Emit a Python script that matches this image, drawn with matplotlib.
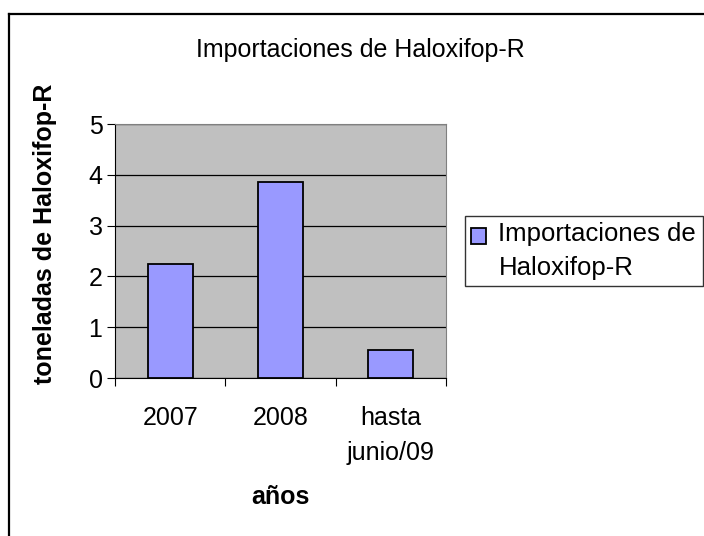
import matplotlib.pyplot as plt
from matplotlib.lines import Line2D

# Datos
categorias = ["2007", "2008", "hasta\njunio/09"]
toneladas = [2.24, 3.86, 0.55]
serie = "Importaciones de\nHaloxifop-R"

plt.rcParams['font.family'] = ['Liberation Sans', 'DejaVu Sans']

W, H = 704, 536
fig = plt.figure(figsize=(W / 100, H / 100), dpi=100)

# borde exterior (recortado: sólo arriba e izquierda visibles)
fig.lines.append(Line2D([9 / W, 1], [1 - 14 / H, 1 - 14 / H], transform=fig.transFigure,
                        color='black', linewidth=1.6))
fig.lines.append(Line2D([9 / W, 9 / W], [0, 1 - 14 / H], transform=fig.transFigure,
                        color='black', linewidth=1.6))

left, right, top, bottom = 115, 446, 124, 378
ax = fig.add_axes([left / W, 1 - bottom / H, (right - left) / W, (bottom - top) / H])
ax.set_facecolor('#C0C0C0')

x = range(len(categorias))
ax.bar(x, toneladas, width=0.41, color='#9999FF', edgecolor='black', linewidth=1.3,
       label=serie, zorder=3)

ax.set_xlim(-0.5, len(categorias) - 0.5)
ax.set_ylim(0, 5)
ax.set_yticks(range(6))
ax.set_xticks([i + 0.5 for i in range(-1, len(categorias))])
ax.set_xticklabels([])
ax.set_xticks(list(x), minor=True)
ax.set_xticklabels(categorias, minor=True, fontsize=18, linespacing=1.6)
ax.tick_params(axis='x', which='minor', length=0, pad=20)
ax.tick_params(axis='x', which='major', length=6, direction='out')
ax.tick_params(axis='y', length=6, labelsize=18, pad=3)
ax.yaxis.grid(True, color='black', linewidth=0.9, zorder=0)
ax.set_axisbelow(True)

for s in ['top', 'right']:
    ax.spines[s].set_color('#808080')

fig.text(45 / W, 1 - 234 / H, "toneladas de Haloxifop-R", fontsize=18, fontweight='bold',
         rotation=90, ha='center', va='center')
fig.text(280 / W, 1 - 497 / H, "años", fontsize=18, fontweight='bold',
         ha='center', va='center')
fig.text(360 / W, 1 - 50 / H, "Importaciones de Haloxifop-R", fontsize=18,
         ha='center', va='center')

leg = fig.legend(loc='center left', bbox_to_anchor=(465 / W, 1 - 251 / H), fontsize=18.5,
                 frameon=True, fancybox=False, edgecolor='black', handlelength=0.55,
                 handleheight=0.55, handletextpad=0.5, borderpad=0.25, borderaxespad=0)
leg.get_frame().set_linewidth(1.0)
for t in leg.get_texts():
    t.set_linespacing(1.5)
# marcador alineado con la primera línea, como en Excel
h = leg.legend_handles[0]
h.set_y(h.get_y() + 11)

fig.savefig("out.png", dpi=100)
